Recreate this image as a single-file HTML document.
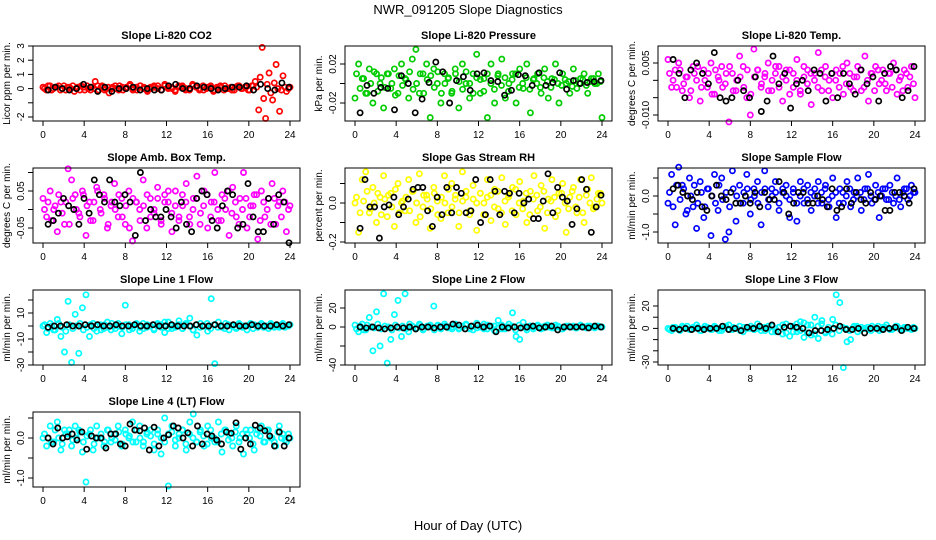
<!DOCTYPE html>
<html><head><meta charset="utf-8">
<style>
html,body{margin:0;padding:0;background:#fff;}
svg{display:block;font-family:"Liberation Sans",Arial,sans-serif;}
</style></head>
<body>
<svg id="chart" width="936" height="540" viewBox="0 0 936 540" xmlns="http://www.w3.org/2000/svg">
<rect width="936" height="540" fill="#fff"/>
<text x="468" y="14" font-size="13" text-anchor="middle">NWR_091205  Slope Diagnostics</text>
<text x="468" y="530" font-size="13" text-anchor="middle">Hour of Day (UTC)</text>
</svg>
<script>
const xTicks = [0,4,8,12,16,20,24];

const co2Vals = [0.1,-0.1,0.2,0,0.1,-0.1,0.2,0.1,0,-0.2,0.1,0.2,-0.1,0,0.1,0.5,-0.1,0.2,0,-0.3,0.1,0,0.2,-0.1,0.1,0.3,0,-0.1,0.2,0.1,-0.2,0,0.1,0.2,-0.1,0.3,0,0.1,-0.2,0.2,0.1,-0.1,0,0.3,0.1,-0.1,0.2,0,0.1,-0.2,0.1,0.2,-0.1,0,0.1,-0.1,0.2,0,0.1,-0.1,0.2,0.5,-1.5,2.9,-2.1,1.1,-0.8,1.7,-1.6,0.9,-0.2,0.1];
const co2Band = [0,0.2,-0.1,0.1,0.2,0,-0.1,0.1,0.2,0,-0.1,0.1,0.2,-0.1,0,0.2,0.1,-0.1,0.1,0,0.2,-0.1,0.1,0,0.2,-0.1,0.1,0.2,0,-0.1,0.1,0.2,0,-0.1,0.2,0.1,0,-0.1,0.1,0.2,0,-0.1,0.2,0.1,0,-0.1,0.1,0.2,-0.1,0,0.1,0.2,0,-0.1,0.1,0.2,0,0.1,-0.1,0.2,0.1,0.8,-0.7,0.3,-0.3,0.4,0,-0.1,0.1,0];
const co2Black = [-0.1,0.1,0,-0.1,0,0.3,0.1,-0.2,0.1,-0.2,0,0,0.1,-0.1,0,-0.1,-0.1,0.2,0.3,0,0,0.2,0.1,0,-0.1,0,0.1,0.1,0.2,-0.1,0.3,0,-0.1,0.4,0.1];
const presVals = [-0.015,0.02,0.005,-0.01,0.015,-0.02,0.01,0,-0.025,0.01,-0.005,0.015,-0.01,0.02,0.005,-0.015,0.025,0.035,-0.01,0.01,0.02,-0.035,0.015,0,-0.02,0.01,0.005,-0.01,0.015,-0.025,0.02,0,-0.015,0.01,0.03,-0.01,0.005,-0.035,0.02,-0.02,0.01,0.025,-0.015,0,0.01,-0.02,0.015,-0.005,0.02,-0.03,0.005,0.01,-0.01,0.015,-0.015,0.005,0.02,-0.02,0.01,0,-0.01,0.015,-0.005,0.005,0.01,-0.01,0.005,0,0.01,-0.035];
const presBand = [0.01,-0.005,0.005,-0.01,0,0.012,-0.008,0.006,-0.004,0.01,0,-0.012,0.008,-0.002,0.004,0.012,-0.006,0,0.01,-0.01,0.004,0.008,-0.004,0.012,-0.01,0,0.006,-0.008,0.01,0.002,-0.006,0.012,0,-0.01,0.006,0.004,-0.008,0.01,0,-0.006,0.008,-0.002,0.006,-0.008,0.004,0.01,-0.004,0,0.006,-0.006,0.004,0,-0.004,0.006,0.002,-0.004,0.004,0,-0.002,0.004,0.002,-0.003,0.003,0,0.004,-0.002,0.002,0.005,0,0.002];
const presBlack = [-0.03,-0.002,-0.01,-0.004,-0.005,-0.027,0.008,0,-0.03,-0.016,0.001,0.022,0.012,-0.02,0.003,0.007,-0.007,0.01,0.011,0.003,0.002,-0.012,-0.007,0.009,0.008,-0.002,0.011,-0.002,0.001,0.011,-0.006,0.003,0,0.001,0.002,0.003];
const tempVals = [0.006,-0.002,0.003,0.005,-0.003,0.001,-0.005,0.004,0,-0.006,0.003,-0.002,0.005,-0.004,0.001,0.004,-0.001,-0.012,0.002,-0.003,0.007,0.004,-0.005,-0.01,0.009,0.003,-0.002,0.001,0.005,-0.003,0.002,0.004,-0.006,0,0.003,-0.002,0.006,-0.004,0.001,0.003,-0.007,0.002,0.008,-0.003,0.004,0,-0.005,0.003,0.002,-0.004,0.005,-0.002,0.001,0.004,-0.003,0.007,-0.006,0.002,0.004,-0.001,0.003,-0.003,0.002,0.005,-0.004,0.001,0.003,-0.002,0.004,-0.005];
const tempBand = [0.002,0,-0.002,0.003,-0.001,0.001,-0.003,0.002,0.004,-0.002,0,0.002,-0.004,0.003,0,-0.002,0.002,0.004,-0.003,0,0.001,-0.002,0.003,-0.004,0.001,0.003,-0.001,0.002,-0.003,0,0.004,-0.002,0.001,0.003,-0.004,0.002,0,-0.003,0.004,-0.001,0.002,0,-0.002,0.003,0.001,-0.003,0.002,0,-0.002,0.004,-0.001,0.002,-0.003,0.001,0.003,-0.002,0,0.002,-0.003,0.003,0,-0.001,0.002,-0.002,0.003,0,-0.003,0.002,0.001,-0.001];
const tempBlack = [0.006,0.002,-0.005,0.003,0.005,0.002,-0.001,0.008,-0.005,-0.006,-0.005,0,-0.003,-0.005,0.001,-0.009,-0.006,0.007,-0.001,0.002,-0.008,-0.001,0,-0.003,0.003,0.002,-0.006,0.002,-0.005,0.002,-0.001,-0.004,0.003,-0.001,0.001,-0.006,0.002,0.004,0.003,-0.005,-0.003,0.004];
const ambVals = [0.03,-0.02,0.05,0,-0.06,0.02,-0.04,0.11,0.08,0.04,-0.01,0.05,-0.07,0.02,-0.03,0.06,0,0.04,-0.05,0.01,0.07,-0.02,0.03,-0.04,0.05,-0.085,0.02,0,0.08,-0.05,0.03,-0.01,0.06,-0.03,0.04,0.02,-0.06,0.05,-0.02,0.01,0.07,-0.04,0.03,0.09,-0.01,0.05,-0.05,0.02,0.1,-0.03,0.04,0,-0.07,0.06,-0.02,0.03,0.1,-0.05,0.01,0.04,-0.08,0.05,-0.02,0.03,0.07,-0.04,0.02,0.05,-0.06,0.01];
const ambBand = [0,0.02,-0.03,0.01,0.04,-0.01,0.02,-0.04,0.03,0,-0.02,0.04,0.01,-0.03,0.02,0.05,-0.01,0.03,-0.04,0.02,0,0.04,-0.02,0.01,-0.05,0.03,0.02,-0.03,0.01,0.04,-0.02,0,0.03,-0.04,0.02,0.05,-0.01,0.01,-0.03,0.04,0.02,-0.02,0,0.03,-0.04,0.01,0.04,-0.02,0.02,0,-0.03,0.03,0.05,-0.01,0.02,-0.04,0,0.03,-0.02,0.01,0.04,-0.03,0.02,0,-0.04,0.03,0.01,-0.02,0.02,0];
const ambBlack = [-0.04,-0.03,-0.01,0.03,0.01,0,-0.04,0.03,-0.01,0.08,0.04,0.02,0.08,0.02,0.01,0.04,0.02,-0.07,0.1,-0.03,0,-0.02,-0.02,0,-0.02,-0.05,0.02,-0.04,-0.06,0.03,0.05,0.04,-0.03,-0.05,0.01,0.05,0.04,-0.05,-0.04,0.07,-0.02,-0.06,-0.06,0.03,-0.04,0.04,0.02,-0.09];
const rhVals = [0.0,-0.15,0.12,0.16,-0.05,0.08,-0.1,0.03,0.14,-0.07,0.05,-0.12,0.1,0,-0.04,0.12,0.06,-0.1,0.15,-0.02,0.04,-0.13,0.08,0.01,-0.08,0.14,-0.05,0.1,0.02,-0.12,0.16,0.03,-0.06,0.09,-0.14,0.05,0,0.12,-0.09,0.07,-0.03,0.13,-0.11,0.04,0.08,-0.06,0.11,0.01,-0.1,0.06,0.14,-0.04,0.09,-0.13,0.02,0.12,-0.07,0.05,0.1,-0.15,0.03,0.08,-0.05,0.12,-0.1,0.07,0.13,-0.02,0.05,0.0];
const rhBand = [0.03,-0.05,0.01,0.06,-0.03,0,0.05,-0.06,0.02,0.04,-0.02,0.07,-0.05,0.01,0.03,-0.04,0.06,0,-0.07,0.04,0.02,-0.03,0.05,-0.06,0.03,0,0.07,-0.02,0.04,-0.05,0.01,0.06,-0.04,0.02,0,0.05,-0.06,0.03,0.04,-0.02,0.06,-0.05,0.01,0.03,-0.04,0.07,0,-0.03,0.05,-0.06,0.02,0.04,-0.02,0.06,-0.05,0.01,0.03,-0.04,0.05,0,-0.03,0.06,-0.02,0.03,-0.05,0.04,0,-0.03,0.02,0.05];
const rhBlack = [-0.13,0.12,-0.02,-0.02,-0.18,-0.02,-0.01,0.03,-0.06,-0.02,0.02,0.07,0.08,0.08,-0.04,-0.12,0.03,-0.06,0.08,-0.05,0.08,0.05,-0.05,-0.04,0.12,-0.1,-0.06,0.12,0.06,-0.06,0.06,0.05,-0.05,0.05,0,0.02,-0.08,-0.08,0.01,0.15,-0.05,0.08,0.03,0.01,-0.11,-0.03,0.12,0.07,-0.15,-0.02,0.04];
const flowVals = [-0.2,0.6,-0.8,0.8,0.3,-0.5,0.5,-0.3,-0.9,0.4,-0.6,0.2,-1.1,0.6,-0.4,0.5,-1.2,-1.0,0.7,-0.7,0.3,-0.2,0.6,-0.5,0.2,0.4,-0.8,0.7,-0.3,0.2,0.4,-0.4,0.1,0.3,-0.6,0.2,-0.7,0.4,-0.2,0.3,-0.4,0.2,0.4,-0.2,0.3,-0.3,0.5,-0.6,0.2,-0.2,0.4,-0.3,0.1,0.5,-0.4,0.2,0.6,-0.2,0.3,-0.6,0.2,-0.1,0.3,-0.2,0.5,-0.3,0.2,-0.1,0.3,0.1];
const flowBand = [0.1,-0.3,0.3,-0.1,0.2,-0.4,0,0.3,-0.2,0.1,-0.3,0.2,0,-0.2,0.3,-0.1,0.1,-0.3,0.2,0,-0.2,0.1,0.2,-0.1,0,-0.2,0.1,0.2,-0.1,0,0.1,-0.2,0.2,0,-0.1,0.1,-0.2,0,0.2,-0.1,0.1,0,-0.2,0.1,0.2,-0.1,0,0.1,-0.2,0.1,0,0.2,-0.1,0,0.1,-0.1,0.2,0,-0.1,0.1,0,0.2,-0.1,0.1,0,-0.1,0.1,0.2,0,0.1];
const flowBlack = [0.2,0.3,0.1,0,-0.1,0.1,-0.3,-0.4,0,0.3,0,-0.1,0.1,-0.2,-0.2,0,-0.2,0.1,-0.3,0.1,-0.1,-0.1,0.4,0.1,-0.5,-0.2,0.1,0.1,-0.2,-0.2,0,-0.1,-0.3,0.2,-0.4,-0.3,0.2,-0.2,0.1,-0.1,-0.2,0.1,-0.1,0,-0.4,-0.4,0.1,0.1,0,-0.2,0.2];
const line1Vals = [0,-5,2,-3,5,-8,-20,19,-28,9,-21,14,24,-8,2,-4,1,-2,3,-3,0,2,-6,16,1,-2,1,-4,2,-1,0,-3,2,1,-5,3,-2,0,4,-2,1,6,-3,-7,2,0,-4,21,-29,3,-1,2,-3,0,-2,1,0,-3,2,1,-1,2,0,-2,1,0,-1,2,0,1];
const line1Band = [1,-2,0,-3,2,-1,-4,1,-2,0,2,-3,-1,1,-2,0,-3,1,-1,2,-2,0,-1,1,-3,0,2,-1,-2,1,0,-2,1,-1,3,-2,0,-1,1,-2,2,0,-3,1,-1,0,2,-2,1,-1,0,-2,1,0,-1,2,-1,0,1,-2,0,1,-1,0,2,-1,0,1,-1,0];
const line1Black = [-1,0,0,1,0,0,1,0,1,0,0,1,0,0,1,0,0,1,0,0,1,0,0,0,1,0,0,1,0,0,1,0,0,1,0,0,0,1,0,1];
const line2Vals = [2,-5,3,-3,10,-25,16,-20,35,-38,-13,13,28,-10,35,-5,1,-2,3,-3,0,2,22,1,-2,3,-1,0,2,-2,1,3,-1,-3,4,0,-2,2,1,-4,7,-2,0,3,15,-10,-13,5,-3,1,0,2,-2,1,0,-1,2,0,-2,1,0,1,-1,2,0,1,0,-1,1,0];
const line2Band = [-2,1,-3,2,0,-1,3,-2,1,0,-3,2,-1,1,-2,3,0,-1,2,-2,1,0,-3,2,-1,1,0,-2,3,-1,0,2,-2,1,-1,0,3,-2,0,1,-1,2,-2,0,1,-3,2,0,-1,1,-2,1,0,-1,2,0,-1,1,-2,0,1,0,-1,1,0,-1,1,0,1,0];
const line2Black = [0,-1,0,-1,-2,-1,0,-1,0,-2,0,0,-1,0,0,3,2,-2,1,2,0,1,-5,0,-1,0,-1,0,1,-1,0,1,-3,0,0,0,0,-1,1,0];
const line3Vals = [0,-2,1,-1,2,0,-1,1,3,-2,0,1,-1,2,0,-2,1,3,-1,0,2,-3,1,0,-1,4,-2,1,2,-3,0,1,-5,4,-7,2,-3,6,-8,3,-6,10,-9,7,-4,-2,8,30,23,-35,-12,-10,2,-3,1,0,-1,2,0,-2,1,3,-1,0,2,-1,1,0,-1,0];
const line3Band = [-1,1,0,-2,1,2,-1,0,1,-2,2,0,-1,1,-2,0,2,-1,1,0,-2,1,0,2,-1,0,1,-2,0,2,-3,1,3,-4,2,-3,4,-2,5,-4,3,-5,2,4,-3,1,-5,3,-2,1,0,-2,1,2,-1,0,1,-2,0,2,-1,1,0,-1,2,0,-1,1,0,1];
const line3Black = [0,-1,0,-1,0,-1,0,0,2,-1,0,-2,1,0,2,0,3,-3,1,2,1,0,-4,-2,-2,-1,0,2,-1,-1,0,-4,0,0,-1,0,1,-2,1,0];
const line4Vals = [0,-0.2,0.3,-0.1,0.4,-0.3,0.2,0.1,-0.2,0.3,0.2,-0.35,-1.1,0.1,-0.3,0.3,0,-0.2,0.2,-0.1,0.1,0.3,-0.2,0.2,0,0.4,-0.1,0.3,-0.2,0.1,0.2,-0.3,0.1,-0.4,0.5,-1.2,0.3,-0.2,0.1,0.2,-0.3,0.4,0.6,-0.1,0.2,-0.2,0.3,0,-0.1,0.4,-0.35,0.2,0.1,-0.2,0.3,0,-0.4,0.1,0.2,-0.3,0.2,0.3,-0.1,0.2,0,-0.2,0.3,0.1,-0.1,0];
const line4Band = [0.1,0,-0.1,0.2,0,-0.15,0.1,0.2,-0.05,0,0.15,-0.1,0.05,0.2,-0.15,0,0.1,-0.1,0.2,0,-0.05,0.15,-0.15,0.1,0.05,-0.1,0.2,0,-0.1,0.15,0.05,-0.15,0.2,0,-0.1,0.1,0.15,-0.05,0,0.2,-0.15,0.1,0,-0.1,0.15,0.05,-0.15,0.2,0,-0.1,0.1,0.2,-0.05,0,0.15,-0.1,0.1,0.2,0,-0.15,0.1,0.05,-0.1,0.2,0,-0.1,0.15,0,-0.05,0.1];
const line4Black = [0,-0.15,0.25,0,0.03,0.1,-0.05,0.15,-0.28,0.05,0,0,-0.25,0.1,0.1,-0.15,-0.2,0.35,0.2,0.18,0.25,-0.3,0.27,-0.2,0,0.08,0.3,0.25,0,0.13,-0.2,0.3,-0.15,0.1,0.05,-0.05,-0.15,0.15,0.12,0.38,-0.28,0,-0.15,0.32,0.25,0.18,0.05,-0.2,0.15,-0.2,0];

const panelTitles = ["Slope Li-820 CO2","Slope Li-820 Pressure","Slope Li-820 Temp.","Slope Amb. Box Temp.","Slope Gas Stream RH","Slope Sample Flow","Slope Line 1 Flow","Slope Line 2 Flow","Slope Line 3 Flow","Slope Line 4 (LT) Flow"];
const yTitles = ["Licor ppm per min.","kPa per min.","degrees C per min.","degrees C per min.","percent per min.","ml/min per min.","ml/min per min.","ml/min per min.","ml/min per min.","ml/min per min."];
const yTickVals = [[-2,-1,0,1,2,3],[-0.02,0,0.02],[-0.01,-0.005,0,0.005],[-0.05,0,0.05,0.1],[-0.2,-0.1,0,0.1],[-1,-0.5,0,0.5],[-30,-20,-10,0,10,20],[-40,-20,0,20],[-30,-20,-10,0,10,20],[-1,-0.5,0,0.5]];
const yTickLabels = [["-2","","0","1","2","3"],["-0.02","","0.02"],["-0.010","","","0.005"],["-0.05","","0.05",""],["-0.2","","0.0",""],["-1.0","","0.0",""],["-30","","-10","","10",""],["-40","","0","20"],["-30","","","0","","20"],["-1.0","","0.0",""]];
const colorVals = [co2Vals,presVals,tempVals,ambVals,rhVals,flowVals,line1Vals,line2Vals,line3Vals,line4Vals];
const bandVals = [co2Band,presBand,tempBand,ambBand,rhBand,flowBand,line1Band,line2Band,line3Band,line4Band];
const blackVals = [co2Black,presBlack,tempBlack,ambBlack,rhBlack,flowBlack,line1Black,line2Black,line3Black,line4Black];
const colors = ["#ff0000","#00cc00","#ff00ff","#ff00ff","#ffff00","#0000ff","#00ffff","#00ffff","#00ffff","#00ffff"];
// axis calibration: [valueA, pixelOffsetA, valueB, pixelOffsetB] relative to box top
const yCal = [[3,0,-2,71],[0.02,18,-0.02,57],[0.005,17,-0.01,69],[0.05,23,-0.05,60],[0,35,-0.2,74],[0,28,-1,64],[10,23,-10,49],[20,18,0,37],[20,16,-30,72],[0,26,-1,66]];

const NS = "http://www.w3.org/2000/svg";
const svg = document.getElementById('chart');
function mk(tag, attrs, parent){ const e=document.createElementNS(NS,tag); for(const k in attrs) e.setAttribute(k,attrs[k]); (parent||svg).appendChild(e); return e; }

const colX = [33,345,658], rowY = [46,168,290,412], BW = 267, BH = 75;
for(let p=0;p<10;p++){
  const bx = colX[p%3], by = rowY[Math.floor(p/3)];
  const g = mk('g',{});
  
  
  const xs = h => bx + 10 + h/24*247;
  const c = yCal[p];
  const ys = v => by + c[1] + (v - c[0])/(c[2]-c[0])*(c[3]-c[1]);
  const t = mk('text',{x:bx+BW/2,y:by-7,'font-size':11,'font-weight':'bold','text-anchor':'middle'},g);
  t.textContent = panelTitles[p];
  
  
  const bd = bandVals[p];
  bd.forEach((v,i)=>{
    const e = mk('circle',{cx:xs(0.15+i/(bd.length-1)*23.7).toFixed(1),cy:ys(v).toFixed(1),r:2.6,fill:'none',stroke:colors[p],'stroke-width':1.7},g);
    
    
  });
  const cv = colorVals[p];
  cv.forEach((v,i)=>{
    const e = mk('circle',{cx:xs(i/(cv.length-1)*24).toFixed(1),cy:ys(v).toFixed(1),r:2.6,fill:'none',stroke:colors[p],'stroke-width':1.7},g);
    
    
  });
  const bv = blackVals[p];
  bv.forEach((v,i)=>{
    const e = mk('circle',{cx:xs(0.5+i/(bv.length-1)*23.4).toFixed(1),cy:ys(v).toFixed(1),r:2.6,fill:'none',stroke:'#000','stroke-width':1.7},g);
    
    
  });
  const box = mk('rect',{x:bx,y:by,width:BW,height:BH,fill:'none',stroke:'#000','stroke-width':1},g);
  
  
  mk('line',{x1:xs(0),x2:xs(24),y1:by+BH,y2:by+BH,stroke:'#000'},g);
  xTicks.forEach(h=>{
    mk('line',{x1:xs(h),x2:xs(h),y1:by+BH,y2:by+BH+5,stroke:'#000'},g);
    const l = mk('text',{x:xs(h),y:by+BH+17,'font-size':10,'text-anchor':'middle'},g);
    l.textContent = h;
    
    
  });
  const tv = yTickVals[p];
  mk('line',{x1:bx,x2:bx,y1:ys(tv[0]),y2:ys(tv[tv.length-1]),stroke:'#000'},g);
  tv.forEach((v,i)=>{
    const y = ys(v);
    mk('line',{x1:bx-5,x2:bx,y1:y,y2:y,stroke:'#000'},g);
    if(yTickLabels[p][i]){
      const l = mk('text',{x:bx-9,y:y,'font-size':10,'text-anchor':'middle',transform:`rotate(-90 ${bx-9} ${y})`},g);
      l.textContent = yTickLabels[p][i];
      
      
    }
  });
  const yt = mk('text',{x:bx-23,y:by+BH/2,'font-size':10,'text-anchor':'middle',transform:`rotate(-90 ${bx-23} ${by+BH/2})`},g);
  yt.textContent = yTitles[p];
  
  
}
</script>
</body></html>
